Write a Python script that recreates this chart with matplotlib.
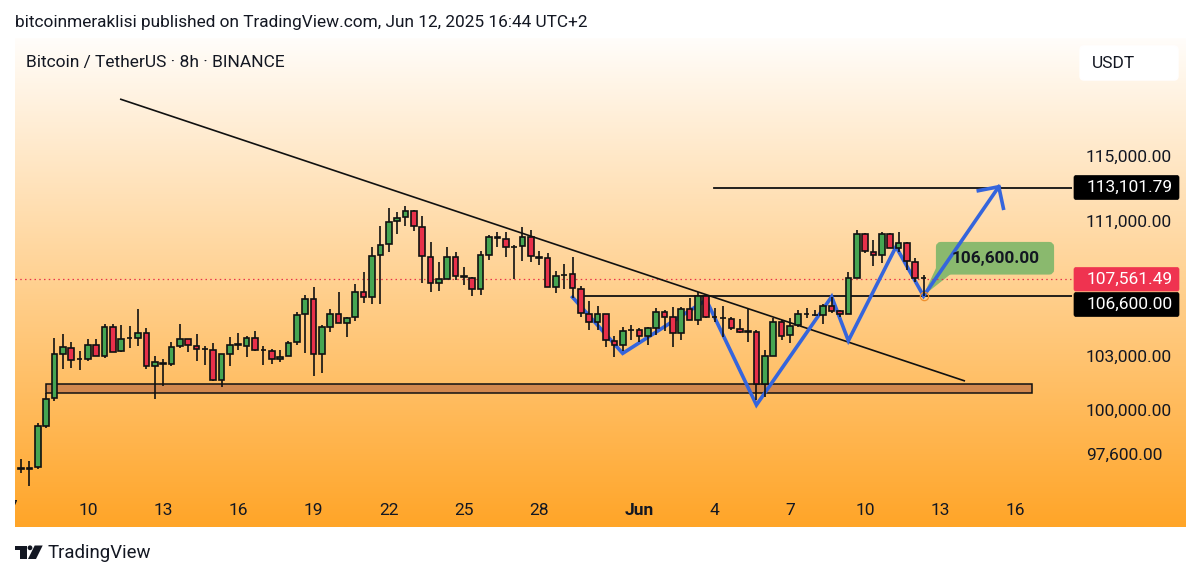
import numpy as np
import matplotlib
matplotlib.use("Agg")
import matplotlib.pyplot as plt
from matplotlib.patches import FancyBboxPatch, Polygon, Circle, Rectangle
from matplotlib.ticker import NullLocator, NullFormatter, FixedLocator, FixedFormatter

plt.rcParams['font.family'] = ['Roboto', 'DejaVu Sans']

# ---- data ----
candle_index = list(range(-1, 109))
opens = [96800, 96820, 96860, 96930, 99120, 100640, 103145, 103490, 102860, 102860,
         103620, 103030, 104690, 103280, 104030, 104020, 104330, 102430, 102640, 102560,
         103565, 103965, 103600, 103420, 103370, 101680, 103145, 103650, 103600, 104020,
         103345, 103300, 102820, 103010, 103810, 105405, 106320, 103125, 104690, 105445,
         104920, 105250, 106730, 106440, 108880, 109545, 110940, 111205, 111575, 110575,
         108800, 107220, 107495, 108760, 107640, 107550, 106865, 108920, 109955, 109865,
         109410, 109445, 110010, 108780, 108700, 106985, 107720, 107750, 106885, 105445,
         104940, 105405, 103850, 103640, 104490, 104480, 104175, 104595, 105520, 105250,
         104330, 105735, 105075, 106455, 105260, 105200, 105150, 104575, 104415, 104405,
         101420, 103030, 104960, 104195, 104770, 105415, 105375, 105345, 105870, 105580,
         105445, 107555, 110150, 109080, 108920, 110150, 109340, 109605, 108500, 107525]
highs = [97020, 97320, 97250, 99270, 100920, 104020, 104250, 103810, 103280, 103980,
         103965, 104845, 104845, 104770, 104730, 105690, 104615, 103010, 102820, 103830,
         104860, 103965, 104250, 103600, 103735, 103125, 104080, 104350, 104175, 104445,
         103585, 103430, 103355, 103850, 105560, 106535, 106985, 104805, 105695, 106730,
         105270, 107200, 107870, 109360, 110675, 111760, 111490, 111880, 111635, 111265,
         109705, 108460, 109405, 109080, 108200, 107570, 109160, 110105, 110290, 110290,
         109505, 110615, 110410, 109160, 109040, 107950, 108365, 108760, 107060, 106180,
         105870, 105405, 104155, 104690, 104790, 104595, 104690, 105755, 105660, 105810,
         105810, 106375, 106730, 106530, 105755, 105890, 105230, 105130, 105755, 104500,
         103355, 105170, 105075, 105170, 105660, 105760, 105660, 106005, 106435, 105660,
         107905, 110415, 110210, 109805, 110310, 110210, 110290, 109705, 108700, 107710]
lows = [96575, 96610, 95900, 96790, 99015, 100515, 102260, 102315, 102225, 102710,
        103010, 102915, 103260, 103260, 103470, 103600, 102300, 100605, 101330, 102450,
        103450, 103260, 102710, 102485, 101625, 101255, 102465, 103355, 102975, 103315,
        102505, 102560, 102670, 103010, 103620, 103165, 101905, 102035, 104385, 104880,
        104080, 105020, 106080, 106020, 106020, 109080, 110190, 110675, 110330, 107240,
        106730, 106790, 107475, 107415, 107100, 106495, 106550, 108600, 109405, 108800,
        107455, 108560, 108500, 108305, 106985, 106670, 106865, 106380, 105230, 104500,
        104500, 103545, 102975, 103300, 103925, 103810, 103640, 104210, 104460, 103545,
        103925, 105055, 104770, 105170, 104980, 104115, 104500, 104310, 103790, 100550,
        100735, 103030, 103925, 103775, 104690, 105170, 105310, 104845, 105465, 105270,
        105445, 107555, 109000, 108245, 108440, 109300, 109100, 108010, 107300, 106470]
closes = [96790, 96860, 96825, 99120, 100605, 103125, 103507, 102805, 102830, 103620,
          103030, 104690, 103260, 104000, 104050, 104330, 102430, 102655, 102590, 103545,
          103965, 103620, 103390, 103400, 101660, 103125, 103640, 103670, 104040, 103355,
          103365, 102820, 102975, 103770, 105385, 106320, 103125, 104650, 105445, 104920,
          105190, 106730, 106420, 108840, 109505, 110900, 111165, 111575, 110635, 108860,
          107240, 107455, 108780, 107650, 107620, 106865, 108880, 109965, 109975, 109360,
          109400, 110010, 108860, 108740, 107005, 107650, 107740, 106925, 105480, 104940,
          105405, 103905, 103660, 104425, 104510, 104175, 104595, 105520, 105270, 104330,
          105735, 105075, 106455, 105270, 105240, 105180, 104595, 104405, 104395, 101420,
          103010, 104960, 104175, 104730, 105405, 105435, 105355, 105870, 105620, 105445,
          107515, 110150, 109130, 108920, 110150, 109340, 109605, 108540, 107555, 107505]

x_tick_index = [8, 17, 26, 35, 44, 53, 62, 74, 83, 92, 101, 110, 119]
x_tick_labels = ['10', '13', '16', '19', '22', '25', '28', 'Jun', '4', '7', '10', '13', '16']
y_tick_values = [115000, 111000, 103000, 100000, 97600]
y_tick_labels = ['115,000.00', '111,000.00', '103,000.00', '100,000.00', '97,600.00']

trend_x = [11.85, 112.96]
trend_y = [118664, 101605]
support_x = [3, 121]
support_y = [100955, 101420]
neckline_level = 106470
neckline_start = 67
target_level = 113010
target_start = 82.9
last_level = 107474
zigzag_x = [66, 72, 82, 88, 97, 99, 104.7, 108, 117]
zigzag_y = [106400, 103165, 106240, 100275, 106435, 103885, 109400, 106470, 113073]
barb_x = [114.55, 117, 117.55]
barb_y = [112825, 113073, 111740]

W, H = 1200, 578
fig = plt.figure(figsize=(W / 100, H / 100), dpi=100, facecolor='white')


def axes_px(x0, y0, x1, y1, **kw):
    return fig.add_axes([x0 / W, 1 - y1 / H, (x1 - x0) / W, (y1 - y0) / H], **kw)


TXT = '#131722'
FS = 12.5

# ---- gradient panel ----
bg = axes_px(14.7, 38, 1185.5, 527, zorder=0)
top = np.array([255, 253, 250]) / 255
bot = np.array([255, 165, 40]) / 255
t = np.linspace(0, 1, 256)[:, None, None]
grad = top[None, None, :] * (1 - t) + bot[None, None, :] * t
bg.imshow(grad, aspect='auto', extent=(14.7, 1185.5, 527, 38), interpolation='bilinear')
bg.set_xlim(14.7, 1185.5)
bg.set_ylim(527, 38)
bg.axis('off')
bg.text(12.6, 508, '7', ha='center', va='center', fontsize=FS, color=TXT, clip_on=True)
# callout under the drawings
bg.add_patch(FancyBboxPatch((938, 244), 114, 28.5, boxstyle='round,pad=0,rounding_size=3',
                            mutation_aspect=1, fc='#8ab96e', ec='#8ab96e', lw=3, zorder=2))
bg.add_patch(Polygon([(937, 266), (923, 296), (952, 273)], closed=True, fc='#8ab96e', ec='none', zorder=2))

# ---- price chart ----
ax = axes_px(14.7, 38, 1072, 490, zorder=1)
ax.patch.set_alpha(0)
ax.set_yscale('log')
ax.set_xlim(-0.754, 125.76)
ax.set_ylim(95691, 122717)
for s in ax.spines.values():
    s.set_visible(False)

ax.add_patch(Rectangle((support_x[0], support_y[0]), support_x[1] - support_x[0], support_y[1] - support_y[0],
                       fc='#d2884e', ec='#111111', lw=1.1, zorder=1, clip_on=False))
ax.axhline(last_level, color='#e8334a', lw=0.9, ls=(0, (1.2, 2.6)), zorder=1.5)
ax.plot(trend_x, trend_y, color='#111111', lw=1.2, zorder=2, solid_capstyle='butt')
ax.plot([neckline_start, 125.76], [neckline_level] * 2, color='#111111', lw=1.3, zorder=2)
ax.plot([target_start, 125.76], [target_level] * 2, color='#111111', lw=1.3, zorder=2)
ax.plot(zigzag_x, zigzag_y, color='#3565dc', lw=2.6, zorder=3, solid_joinstyle='miter')
ax.plot(barb_x, barb_y, color='#3565dc', lw=2.6, zorder=3, solid_joinstyle='miter')
ax.plot([zigzag_x[7]], [zigzag_y[7]], marker='o', ms=6, mfc='none', mec='#f0902c', mew=0.9, zorder=3.5)

cx = np.array(candle_index, dtype=float)
o, h, l, c = map(np.array, (opens, highs, lows, closes))
ax.vlines(cx, l, h, color='#111111', lw=1.2, zorder=4)
colors = np.where(c >= o, '#46a552', '#e8304a')
ax.bar(cx, np.abs(c - o), bottom=np.minimum(o, c), width=0.68, color=colors,
       edgecolor='#111111', linewidth=1.2, zorder=5)

ax.yaxis.tick_right()
ax.yaxis.set_major_locator(FixedLocator(y_tick_values))
ax.yaxis.set_major_formatter(FixedFormatter(y_tick_labels))
ax.yaxis.set_minor_locator(NullLocator())
ax.yaxis.set_minor_formatter(NullFormatter())
ax.tick_params(axis='y', length=0, pad=10, labelsize=FS, labelcolor=TXT)
ax.set_xticks(x_tick_index)
ax.set_xticklabels(x_tick_labels)
ax.tick_params(axis='x', length=0, pad=9.5, labelsize=FS, labelcolor=TXT)
for lab in ax.get_xticklabels():
    if lab.get_text() == 'Jun':
        lab.set_fontweight('bold')

# ---- overlay in pixel space ----
ov = axes_px(0, 0, W, H, zorder=5)
ov.patch.set_alpha(0)
ov.set_xlim(0, W)
ov.set_ylim(H, 0)
ov.axis('off')

ov.text(15, 23, 'bitcoinmeraklisi published on TradingView.com, Jun 12, 2025 16:44 UTC+2',
        fontsize=12.42, color=TXT, va='center', ha='left')
ov.text(26, 62, 'Bitcoin / TetherUS · 8h · BINANCE', fontsize=FS, color=TXT, va='center', ha='left')

ov.add_patch(FancyBboxPatch((1080, 46), 98, 34, boxstyle='round,pad=0,rounding_size=4',
                            fc='white', ec='#fff', lw=1))
ov.text(1092, 63.5, 'USDT', fontsize=FS, color=TXT, va='center', ha='left')


def price_box(y0, y1, color, text):
    ov.add_patch(FancyBboxPatch((1074, y0), 105, y1 - y0, boxstyle='round,pad=0,rounding_size=2',
                                fc=color, ec=color, lw=0.5, zorder=3))
    ov.text(1087, (y0 + y1) / 2, text, fontsize=FS, color='white', va='center', ha='left', zorder=4)


price_box(175.5, 199.5, '#000000', '113,101.79')
price_box(267.5, 291, '#ef3350', '107,561.49')
price_box(292.5, 316.5, '#000000', '106,600.00')

ov.text(995.5, 258.5, '106,600.00', fontsize=12.4, fontweight='bold', color=TXT, va='center', ha='center')

# TradingView mark
logo = '#131722'
ov.add_patch(Polygon([(14.7, 545.5), (26.7, 545.5), (26.7, 559), (20, 559), (20, 550), (14.7, 550)], fc=logo, ec='none'))
ov.add_patch(Circle((30, 547.8), 2.4, fc=logo, ec='none'))
ov.add_patch(Polygon([(34.7, 545.5), (42.7, 545.5), (36, 559), (28, 559)], fc=logo, ec='none'))
ov.text(48, 553.5, 'TradingView', fontsize=13.4, color=TXT, va='center', ha='left')

fig.savefig('out.png', dpi=100, facecolor='white')
